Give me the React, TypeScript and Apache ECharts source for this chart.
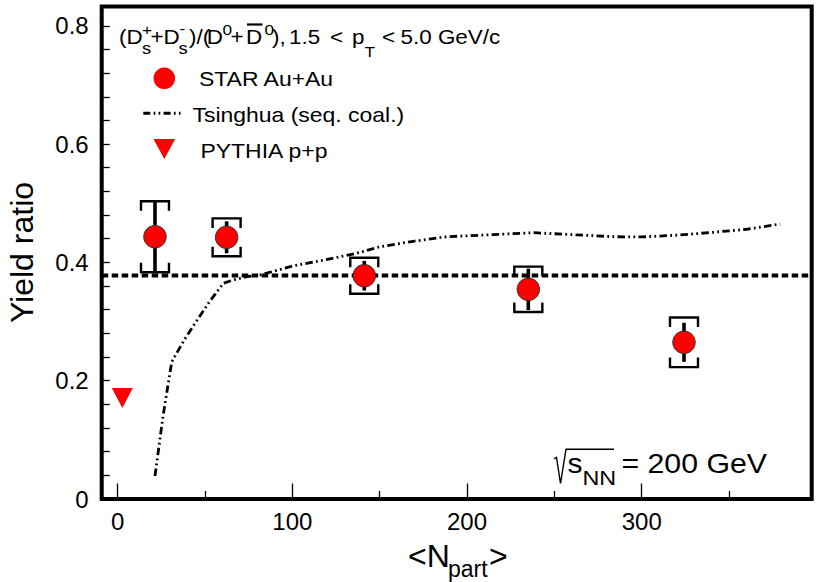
import React, { useEffect, useRef } from 'react';
import * as echarts from 'echarts';

// ---------------- data ----------------
const starNpart = [21.4, 62.4, 141.2, 235.1, 324.2];
const starRatio = [0.4434, 0.4424, 0.3775, 0.3545, 0.2649];
const starStat = [0.06, 0.027, 0.025, 0.035, 0.033];
const starSys = [0.06, 0.032, 0.0304, 0.0384, 0.0419];

const pythiaNpart = [2.7];
const pythiaRatio = [0.1708];

const tsinghuaNpart = [21.4, 26, 31, 38, 44.3, 52, 60.5, 67, 73.9, 81.5, 100.4, 120, 136.9, 150.2, 170, 188.4, 215, 238, 260, 283.7, 300, 321.9, 341, 360, 379.2];
const tsinghuaRatio = [0.0389, 0.14, 0.232, 0.268, 0.297, 0.331, 0.3647, 0.371, 0.3758, 0.3787, 0.394, 0.405, 0.4154, 0.4265, 0.436, 0.4434, 0.447, 0.4502, 0.447, 0.4434, 0.443, 0.4463, 0.4509, 0.456, 0.4649];

const refRatio = 0.378;

const xTickMajor = [0, 100, 200, 300];
const xTickMinor = [50, 150, 250, 350];
const yTickMajor = [0, 0.2, 0.4, 0.6, 0.8];
const yTickAll = [0, 0.04, 0.08, 0.12, 0.16, 0.2, 0.24, 0.28, 0.32, 0.36, 0.4, 0.44, 0.48, 0.52, 0.56, 0.6, 0.64, 0.68, 0.72, 0.76, 0.8];

const X_MIN = -9.1;
const X_MAX = 397.3;
const Y_MIN = 0;
const Y_MAX = 0.8326;

const FONT = "'Liberation Sans', Arial, Helvetica, sans-serif";

// text helper: baseline-positioned left-aligned text
function txt(text: string, x: number, baseline: number, size: number, sx = 1, extra: any = {}) {
  return {
    type: 'text',
    x,
    y: baseline - 0.3465 * size,
    scaleX: sx,
    z: 100,
    style: {
      text,
      font: `${size}px ${FONT}`,
      fill: '#000',
      align: 'left',
      verticalAlign: 'middle',
      textAlign: 'left',
      textVerticalAlign: 'middle',
      ...extra,
    },
  };
}

export default function App() {
  const ref = useRef<HTMLDivElement>(null);

  useEffect(() => {
    if (!ref.current) return;
    const chart = echarts.init(ref.current, null, { renderer: 'svg' });

    const HS = 19.5; // header size
    const HX = 1.15; // header scaleX
    const LS = 20.5;
    const LX = 1.12;

    const graphics: any[] = [
      // header
      txt('(D', 119, 43.5, HS, HX),
      txt('+', 142, 35, 15, HX),
      txt('s', 142, 54.3, 16, HX),
      txt('+D', 150.5, 43.5, HS, HX),
      txt('s', 178.5, 54.3, 16, HX),
      txt('-', 179.5, 34, 15, HX),
      txt(')/(', 189, 43.5, HS, HX),
      txt('D', 206.7, 43.5, HS, HX),
      txt('0', 222.5, 35, 15, HX),
      txt('+', 230.5, 43.5, HS, HX),
      txt('D', 246, 43.5, HS, HX),
      { type: 'line', z: 100, shape: { x1: 247, y1: 24.5, x2: 262.5, y2: 24.5 }, style: { stroke: '#000', lineWidth: 2.2 } },
      txt('0', 264.5, 35, 15, HX),
      txt('),', 272, 43.5, HS, HX),
      txt('1.5', 289, 43.5, HS, HX),
      txt('<', 330, 43.5, HS, HX),
      txt('p', 352, 43.5, HS, HX),
      txt('T', 364.5, 56.7, 15, HX),
      txt('<', 382, 43.5, HS, HX),
      txt('5.0 GeV/c', 400.5, 43.5, HS, HX),

      // legend
      { type: 'circle', z: 100, shape: { cx: 164.3, cy: 78.3, r: 10.8 }, style: { fill: '#ff0000' } },
      txt('STAR Au+Au', 199, 86, LS, LX),
      {
        type: 'line', z: 100,
        shape: { x1: 143.3, y1: 113.3, x2: 180.5, y2: 113.3 },
        style: { stroke: '#000', lineWidth: 3, lineDash: [7, 3.3, 1.7, 3.3, 1.7, 3.3] },
      },
      txt('Tsinghua (seq. coal.)', 192.5, 121.7, LS, LX),
      { type: 'polygon', z: 100, shape: { points: [[153.5, 139], [175.1, 139], [164.3, 159]] }, style: { fill: '#ff0000' } },
      txt('PYTHIA p+p', 200.5, 158.3, LS, LX),

      // sqrt(s_NN) = 200 GeV
      {
        type: 'polyline', z: 100,
        shape: { points: [[554, 459], [556.5, 457.5], [560.5, 483.5], [566, 449.3], [614, 449.3]] },
        style: { stroke: '#000', lineWidth: 1.4, fill: null },
      },
      txt('s', 567.5, 472.7, 27, 1.11),
      txt('NN', 582.5, 485, 21, 1.11),
      txt('= 200 GeV', 621.5, 472.7, 27.5, 1.1),

      // axis titles
      {
        type: 'text', x: 21.7, y: 252.5, rotation: Math.PI / 2, z: 100,
        style: {
          text: 'Yield ratio', font: `32px ${FONT}`, fill: '#000',
          align: 'center', verticalAlign: 'middle', textAlign: 'center', textVerticalAlign: 'middle',
        },
      },
      txt('<N', 408, 566.7, 32),
      txt('part', 448, 576.7, 23),
      txt('>', 489, 566.7, 32),
    ];

    const starData = starNpart.map((x, i) => [x, starRatio[i], starStat[i], starSys[i]]);

    const option: any = {
      animation: false,
      backgroundColor: '#fff',
      grid: {
        left: 101.7, top: 6.5, width: 710, height: 492.5,
        show: true, borderColor: '#000', borderWidth: 4, backgroundColor: 'transparent',
      },
      xAxis: [
        {
          type: 'value', min: X_MIN, max: X_MAX, position: 'bottom',
          axisLine: { show: false, onZero: false }, splitLine: { show: false },
          axisTick: { show: true, inside: true, length: 15.5, customValues: xTickMajor, lineStyle: { color: '#000', width: 1.3 } },
          axisLabel: { customValues: xTickMajor, margin: 10, fontSize: 24, fontFamily: FONT, color: '#000' },
        },
        {
          type: 'value', min: X_MIN, max: X_MAX, position: 'bottom',
          axisLine: { show: false, onZero: false }, splitLine: { show: false },
          axisTick: { show: true, inside: true, length: 8, customValues: xTickMinor, lineStyle: { color: '#000', width: 1.3 } },
          axisLabel: { show: false },
        },
      ],
      yAxis: {
        type: 'value', min: Y_MIN, max: Y_MAX, position: 'left',
        axisLine: { show: false, onZero: false }, splitLine: { show: false },
        axisTick: { show: true, inside: true, length: 8, customValues: yTickAll, lineStyle: { color: '#000', width: 1.3 } },
        axisLabel: {
          customValues: yTickMajor, margin: 13, fontSize: 24, fontFamily: FONT, color: '#000',
          formatter: (v: number) => String(v),
        },
      },
      series: [
        {
          type: 'line', name: 'ref', z: 2,
          data: [[X_MIN, refRatio], [X_MAX, refRatio]],
          symbol: 'none',
          lineStyle: { color: '#000', width: 4, type: [6.5, 3.5], cap: 'butt' },
        },
        {
          type: 'line', name: 'Tsinghua', z: 2,
          data: tsinghuaNpart.map((x, i) => [x, tsinghuaRatio[i]]),
          symbol: 'none', smooth: false,
          lineStyle: { color: '#000', width: 2.8, type: [7.5, 3.3, 1.8, 3.3, 1.8, 3.3], cap: 'butt', join: 'round' },
        },
        {
          type: 'custom', name: 'errors', z: 3,
          data: starData,
          renderItem: (params: any, api: any) => {
            const x = api.value(0), y = api.value(1), st = api.value(2), sy = api.value(3);
            const c = api.coord([x, y]);
            const sh = api.coord([x, y + st])[1];
            const sl = api.coord([x, y - st])[1];
            const yh = api.coord([x, y + sy])[1];
            const yl = api.coord([x, y - sy])[1];
            const hw = 14, leg = 9.5;
            const bs = { stroke: '#000', lineWidth: 2.4, fill: null };
            return {
              type: 'group',
              children: [
                { type: 'line', shape: { x1: c[0], y1: sh, x2: c[0], y2: sl }, style: { stroke: '#000', lineWidth: 3.6 } },
                { type: 'polyline', shape: { points: [[c[0] - hw, yh + leg], [c[0] - hw, yh], [c[0] + hw, yh], [c[0] + hw, yh + leg]] }, style: bs },
                { type: 'polyline', shape: { points: [[c[0] - hw, yl - leg], [c[0] - hw, yl], [c[0] + hw, yl], [c[0] + hw, yl - leg]] }, style: bs },
              ],
            };
          },
        },
        {
          type: 'scatter', name: 'STAR Au+Au', z: 4,
          data: starNpart.map((x, i) => [x, starRatio[i]]),
          symbol: 'circle', symbolSize: 22.5,
          itemStyle: { color: '#ff0000', borderColor: '#333', borderWidth: 1, opacity: 1 },
        },
        {
          type: 'scatter', name: 'PYTHIA p+p', z: 4,
          data: pythiaNpart.map((x, i) => [x, pythiaRatio[i]]),
          symbol: 'triangle', symbolRotate: 180, symbolSize: [21, 20],
          itemStyle: { color: '#ff0000', opacity: 1 },
        },
      ],
      graphic: graphics,
    };

    chart.setOption(option);
    return () => chart.dispose();
  }, []);

  return (
    <div
      ref={ref}
      style={{ position: 'fixed', left: 0, top: 0, width: 824, height: 582, background: '#fff' }}
    />
  );
}
